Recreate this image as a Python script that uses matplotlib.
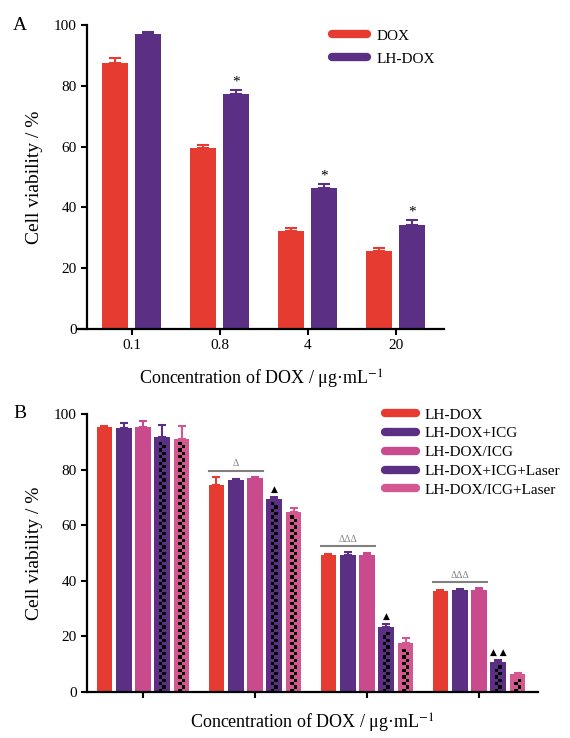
import numpy as np
import matplotlib
matplotlib.use('Agg')
import matplotlib.pyplot as plt
from matplotlib.lines import Line2D
from matplotlib.patches import Rectangle

plt.rcParams['font.family'] = ['Liberation Serif', 'DejaVu Serif']
plt.rcParams['mathtext.fontset'] = 'stix'

# ---- panel A data ----
concA = ['0.1', '0.8', '4', '20']
dox = [87.6, 59.7, 32.2, 25.6]
dox_err = [1.5, 0.7, 0.9, 1.0]
lhdox = [97.0, 77.4, 46.3, 34.1]
lhdox_err = [0.6, 1.3, 1.3, 1.9]
starsA = [False, True, True, True]

# ---- panel B data ----
groupsB = ['LH-DOX', 'LH-DOX+ICG', 'LH-DOX/ICG', 'LH-DOX+ICG+Laser', 'LH-DOX/ICG+Laser']
valsB = [
    [95.5, 74.5, 49.4, 36.5],
    [94.9, 76.3, 49.2, 36.7],
    [95.5, 76.9, 49.2, 36.7],
    [91.6, 69.6, 23.3, 10.8],
    [91.1, 64.8, 17.5, 6.6],
]
errB = [
    [0.3, 3.0, 0.3, 0.3],
    [1.8, 0.3, 1.2, 0.3],
    [2.1, 0.3, 0.8, 0.6],
    [4.5, 0.6, 1.2, 0.8],
    [4.7, 1.5, 2.1, 0.3],
]
deltaB = ['', 'Δ', 'ΔΔΔ', 'ΔΔΔ']
triB = ['', '▲', '▲', '▲ ▲']

red = '#E63B30'
purple = '#5B2F84'
pink = '#C94B8D'
pinkL = '#D2588F'
colorsB = [red, purple, pink, purple, pinkL]
checker = [False, False, False, True, True]

W, H = 570, 738
fig = plt.figure(figsize=(W / 100, H / 100), dpi=100)


def style(ax):
    for s in ['top', 'right']:
        ax.spines[s].set_visible(False)
    for s in ['left', 'bottom']:
        ax.spines[s].set_linewidth(1.6)
    ax.tick_params(direction='out', width=1.5, length=4, labelsize=11)
    ax.set_ylim(0, 100)
    ax.set_yticks(np.arange(0, 101, 20))


# ================= Panel A =================
axA = fig.add_axes([78 / W, 1 - 329 / H, 366 / W, 304 / H])
style(axA)
axA.spines['left'].set_position(('axes', 9 / 366))
x = np.arange(len(concA))
axA.bar(x - 0.19, dox, 0.295, color=red, yerr=[np.zeros(4), dox_err],
        error_kw=dict(ecolor=red, elinewidth=1.5, capsize=4, capthick=1.5))
axA.bar(x + 0.185, lhdox, 0.295, color=purple, yerr=[np.zeros(4), lhdox_err],
        error_kw=dict(ecolor=purple, elinewidth=1.5, capsize=4, capthick=1.5))
for i in range(len(concA)):
    if starsA[i]:
        axA.text(x[i] + 0.185, lhdox[i] + lhdox_err[i] + 2.6, '*', ha='center',
                 va='center', fontsize=11)
axA.set_xlim(-0.614, 3.545)
axA.set_xticks(x)
axA.set_xticklabels(concA)
axA.set_ylabel('Cell viability / %', fontsize=14, labelpad=8)
axA.set_xlabel(r'Concentration of DOX / μg·mL$^{-1}$', fontsize=13, labelpad=11)
hA = [Line2D([0], [0], color=red, lw=6, solid_capstyle='round'),
      Line2D([0], [0], color=purple, lw=6, solid_capstyle='round')]
fig.legend(hA, ['DOX', 'LH-DOX'], loc='upper left', bbox_to_anchor=(332 / W, 1 - 29 / H),
           frameon=False, fontsize=11, borderpad=0, borderaxespad=0, handlelength=2.3,
           handletextpad=0.6, labelspacing=0.6)
fig.text(20 / W, 1 - 25 / H, 'A', fontsize=14, ha='center', va='center')

# ================= Panel B =================
axB = fig.add_axes([87 / W, 1 - 692 / H, 451 / W, 278 / H])
style(axB)
xb = np.arange(4)
pitch = 0.172
wB = 0.142
sq_w = 0.03
sq_h = 1.2
for j in range(len(groupsB)):
    pos = xb + (j - 2) * pitch
    axB.bar(pos, valsB[j], wB, color=colorsB[j], yerr=[np.zeros(4), errB[j]],
            error_kw=dict(ecolor=colorsB[j], elinewidth=1.5, capsize=3, capthick=1.5))
    if checker[j]:
        for cx, h in zip(pos, valsB[j]):
            n = int((h - 1.0) / sq_h)
            for k in range(n):
                axB.add_patch(Rectangle((cx - sq_w + (k % 2) * sq_w, k * sq_h), sq_w, sq_h,
                                        color='black', lw=0))

for i in range(4):
    if deltaB[i]:
        top = max(valsB[j][i] + errB[j][i] for j in range(3))
        x0 = xb[i] - 2 * pitch - wB / 2
        x1 = xb[i] + wB / 2
        axB.plot([x0, x1], [top + 2.1, top + 2.1], color='#808080', lw=1.5)
        axB.text(xb[i] - pitch, top + 4.6, deltaB[i], ha='center', va='center',
                 fontsize=7, color='#808080')
    if triB[i]:
        axB.text(xb[i] + pitch, valsB[3][i] + errB[3][i] + 2.8, triB[i], ha='center',
                 va='center', fontsize=6.5, family=['DejaVu Sans'])

axB.set_xlim(-0.5, 3.527)
axB.set_xticks(xb)
axB.set_xticklabels([])
axB.set_ylabel('Cell viability / %', fontsize=14, labelpad=8)
axB.set_xlabel(r'Concentration of DOX / μg·mL$^{-1}$', fontsize=13, labelpad=7)
hB = [Line2D([0], [0], color=c, lw=6, solid_capstyle='round') for c in colorsB]
fig.legend(hB, groupsB, loc='upper left', bbox_to_anchor=(385 / W, 1 - 408 / H),
           frameon=False, fontsize=11, borderpad=0, borderaxespad=0, handlelength=2.0,
           handletextpad=0.6, labelspacing=0.33)
fig.text(20 / W, 1 - 413 / H, 'B', fontsize=14, ha='center', va='center')

fig.savefig('out.png', dpi=100)
